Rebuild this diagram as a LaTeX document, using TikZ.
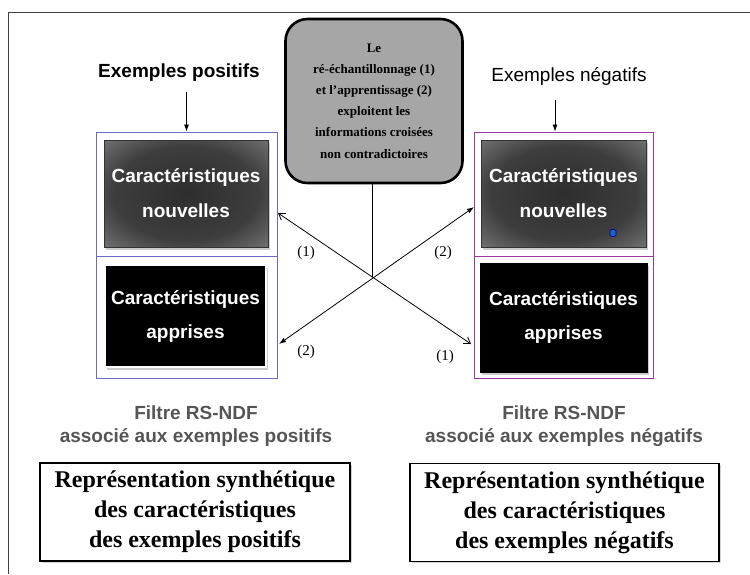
\documentclass[tikz,border=0pt]{standalone}
\usepackage{fontspec}
\setmainfont{Liberation Serif}
\setsansfont{Liberation Sans}
\usetikzlibrary{arrows.meta,shadows}

\definecolor{infogray}{HTML}{A6A6A6}
\definecolor{poscolor}{HTML}{6A6AC8}
\definecolor{negcolor}{HTML}{9B3A9B}
\definecolor{filtgray}{HTML}{555555}
\definecolor{dotblue}{HTML}{1F5FC4}

\pgfdeclareradialshading{featglow}{\pgfpoint{0bp}{0bp}}{color(0bp)=(black!82); color(22bp)=(black!76); color(36bp)=(black!55); color(46bp)=(black!35); color(50bp)=(black!26)}

\begin{document}
\begin{tikzpicture}[x=1pt, y=-1pt,
    colcell/.style={draw=#1, line width=0.9pt, inner sep=0pt},
    newfeat/.style={shading=featglow, draw=black!80, line width=1pt,
        drop shadow={opacity=0.4, shadow xshift=2pt, shadow yshift=-2.5pt},
        text=white, align=center, inner sep=0pt,
        font=\fontsize{19}{35}\selectfont\sffamily\bfseries},
    learnfeat/.style={fill=black, draw=white, line width=2.5pt,
        drop shadow={opacity=0.4, shadow xshift=2pt, shadow yshift=-2.5pt},
        text=white, align=center, inner sep=0pt,
        font=\fontsize{19}{34}\selectfont\sffamily\bfseries},
    synbox/.style={draw, line width=1.2pt, fill=white,
        drop shadow={opacity=0.35, shadow xshift=1.5pt, shadow yshift=-1.5pt},
        align=center, inner sep=0pt, minimum height=98pt,
        font=\fontsize{24}{30}\selectfont\bfseries},
    filt/.style={text=filtgray, align=center,
        font=\fontsize{19}{23}\selectfont\sffamily\bfseries},
    num/.style={font=\fontsize{15}{18}\selectfont},
    tipfull/.style={{Latex[length=7pt,width=5pt]}-{Latex[length=7pt,width=5pt]}},
    tipopen/.style={{Straight Barb[length=6pt,width=8pt]}-{Straight Barb[length=6pt,width=8pt]}}]
    \useasboundingbox (0,0) rectangle (750,574);

    % Frame
    \draw[black!75, line width=1pt] (750,12.5) -- (8.5,12.5) -- (8.5,574);

    % Central note
    \node[draw, line width=2.6pt, fill=infogray, rounded corners=22pt,
        minimum width=177pt, minimum height=164pt, align=center,
        font=\fontsize{13}{21.2}\selectfont\bfseries] (info) at (374,101)
        {Le\\ré-échantillonnage (1)\\et l’apprentissage (2)\\exploitent les\\informations croisées\\non contradictoires};

    % Titles
    \node[font=\fontsize{19}{23}\selectfont\sffamily\bfseries] (posttl) at (179,73) {Exemples positifs};
    \node[font=\fontsize{19}{23}\selectfont\sffamily] (negttl) at (569,76) {Exemples négatifs};

    % Filter columns
    \node[colcell=poscolor, minimum width=181pt, minimum height=124pt] (posup) at (186.5,194) {};
    \node[colcell=poscolor, minimum width=181pt, minimum height=122pt] (poslow) at (186.5,317) {};
    \node[colcell=negcolor, minimum width=179pt, minimum height=124pt] (negup) at (563.5,194) {};
    \node[colcell=negcolor, minimum width=179pt, minimum height=122pt] (neglow) at (563.5,317) {};

    \coordinate (posdrop) at (186.5,92);
    \coordinate (negdrop) at (555,100);
    \draw[-{Latex[length=7pt,width=5pt]}, line width=0.8pt] (posdrop) -- (posdrop |- posup.north);
    \draw[-{Latex[length=7pt,width=5pt]}, line width=0.8pt] (negdrop) -- (negdrop |- negup.north);

    % Features
    \node[newfeat, minimum width=164pt, minimum height=107pt] (posnew) at (186,193.5) {Caractéristiques\\nouvelles};
    \node[learnfeat, minimum width=161pt, minimum height=102pt] (poslearn) at (185.5,316) {Caractéristiques\\apprises};
    \node[newfeat, minimum width=165pt, minimum height=107pt] (negnew) at (563.5,193.5) {Caractéristiques\\nouvelles};
    \node[learnfeat, draw=black, line width=1pt, minimum width=167pt, minimum height=109pt] (neglearn) at (563.5,317.5) {Caractéristiques\\apprises};
    \node[fill=dotblue, draw=blue!55!black, line width=0.6pt, inner sep=0pt,
        minimum width=6pt, minimum height=7pt, rounded corners=1.5pt] (dot) at (613,233) {};

    % Crossed exchanges
    \coordinate (cross) at (372,277);
    \coordinate (posin) at (278,213);
    \coordinate (posout) at (279,344);
    \coordinate (negin) at (474,207);
    \coordinate (negout) at (471,344);
    \draw[line width=0.8pt] (cross |- info.south) -- (cross);
    \draw[tipopen, line width=0.8pt] (posin) -- (negout);
    \draw[tipfull, line width=0.8pt] (posout) -- (negin);

    \node[num] (numposin) at (306,253) {(1)};
    \node[num] (numnegin) at (443,253) {(2)};
    \node[num] (numposout) at (306,352) {(2)};
    \node[num] (numnegout) at (445,357) {(1)};

    % Filter names
    \node[filt] (posfilt) at (196,426.5) {Filtre RS-NDF\\associé aux exemples positifs};
    \node[filt] (negfilt) at (564,426.5) {Filtre RS-NDF\\associé aux exemples négatifs};

    % Synthesis
    \node[synbox, minimum width=310pt] (possyn) at (195,512) {Représentation synthétique\\des caractéristiques\\des exemples positifs};
    \node[synbox, minimum width=309pt] (negsyn) at (564.5,512.5) {Représentation synthétique\\des caractéristiques\\des exemples négatifs};
\end{tikzpicture}
\end{document}
